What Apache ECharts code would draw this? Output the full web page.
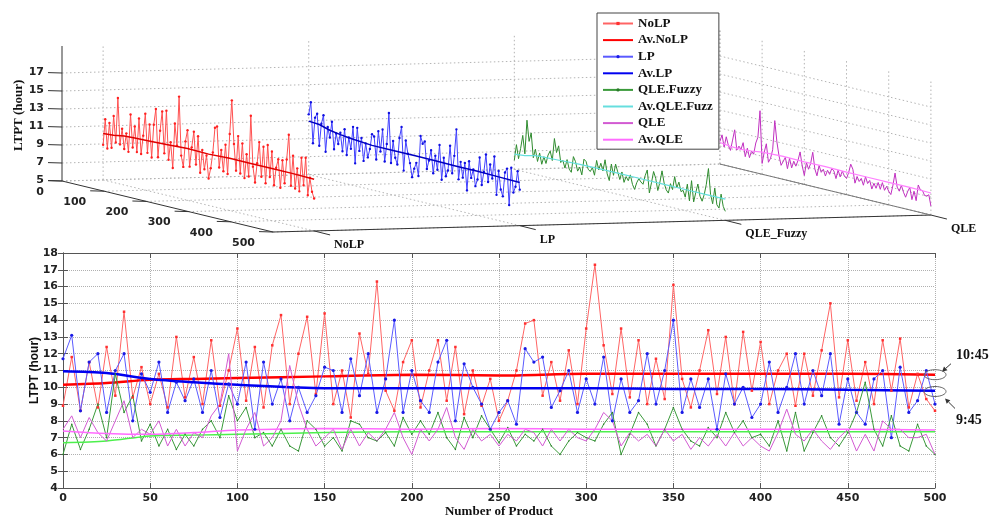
<!DOCTYPE html>
<html lang="en">
<head>
<meta charset="UTF-8">
<title>LTPT (hour)</title>
<style>
    html, body { margin: 0; padding: 0; background: #fff; }
    #main { width: 1005px; height: 519px; }
</style>
</head>
<body>
<div id="main"></div>
<script src="https://cdn.jsdelivr.net/npm/echarts@6/dist/echarts.min.js"></script>
<script>
// number of product, sampled every 5
var products = [
    0, 5, 10, 15, 20, 25, 30, 35, 40, 45,
    50, 55, 60, 65, 70, 75, 80, 85, 90, 95,
    100, 105, 110, 115, 120, 125, 130, 135, 140, 145,
    150, 155, 160, 165, 170, 175, 180, 185, 190, 195,
    200, 205, 210, 215, 220, 225, 230, 235, 240, 245,
    250, 255, 260, 265, 270, 275, 280, 285, 290, 295,
    300, 305, 310, 315, 320, 325, 330, 335, 340, 345,
    350, 355, 360, 365, 370, 375, 380, 385, 390, 395,
    400, 405, 410, 415, 420, 425, 430, 435, 440, 445,
    450, 455, 460, 465, 470, 475, 480, 485, 490, 495,
    500
];
var noLP = [
    8.9, 11.8, 8.6, 11.5, 8.8, 12.4, 9.5, 14.5, 9.4, 11.2,
    9.0, 10.8, 8.8, 13.0, 9.4, 11.8, 9.0, 12.8, 8.9, 11.0,
    13.5, 9.2, 12.4, 8.8, 12.5, 14.3, 9.0, 12.0, 14.2, 9.6,
    14.4, 9.0, 11.0, 8.2, 13.2, 10.8, 16.3, 9.8, 8.6, 11.5,
    12.8, 8.8, 11.0, 12.8, 9.2, 12.4, 8.4, 11.0, 8.9, 10.5,
    8.0, 9.2, 11.0, 13.8, 14.0, 9.5, 11.5, 9.2, 12.2, 9.0,
    13.5, 17.3, 12.5, 9.6, 13.5, 9.4, 12.8, 9.0, 11.7, 9.3,
    16.1, 10.5, 8.8, 11.0, 13.4, 9.6, 13.0, 9.0, 13.3, 9.8,
    12.7, 9.0, 11.0, 12.0, 8.9, 12.0, 9.5, 12.2, 15.0, 9.4,
    12.8, 9.2, 11.5, 9.0, 12.8, 9.8, 12.9, 8.8, 10.8, 9.3,
    8.6
];
var lp = [
    11.7, 13.1, 8.6, 11.5, 12.0, 8.5, 11.0, 12.0, 8.0, 10.8,
    9.7, 11.5, 8.5, 10.3, 9.2, 10.5, 8.5, 11.0, 8.2, 10.2,
    9.0, 11.5, 7.5, 11.5, 9.0, 10.5, 8.0, 10.0, 8.5, 9.5,
    11.2, 11.0, 8.5, 11.7, 9.5, 12.0, 8.5, 10.5, 14.0, 8.5,
    11.0, 9.2, 8.5, 11.5, 12.8, 8.0, 11.4, 10.0, 9.0, 7.5,
    8.5, 9.2, 7.8, 12.3, 11.5, 11.8, 8.8, 9.8, 11.0, 8.5,
    10.5, 9.0, 11.8, 8.0, 10.5, 8.5, 9.2, 12.0, 9.0, 11.0,
    14.0, 8.5, 10.5, 8.8, 10.5, 7.5, 10.8, 9.0, 10.0, 8.2,
    9.0, 11.5, 8.5, 10.0, 12.0, 9.0, 11.0, 9.5, 12.0, 7.8,
    10.5, 8.5, 7.8, 10.5, 11.0, 7.0, 11.2, 8.5, 9.2, 11.0,
    9.0
];
var qleFuzzy = [
    6.0, 7.8, 6.3, 7.5, 9.0, 7.0, 10.8, 8.5, 9.5, 6.8,
    7.8, 6.5, 7.5, 6.3, 7.2, 6.5, 7.5, 8.0, 7.0, 9.5,
    8.0, 8.8, 7.0, 7.3, 6.5, 7.5, 6.5, 6.2, 8.0, 7.5,
    6.5, 7.0, 6.2, 8.0, 7.8, 7.0, 6.8, 7.3, 6.5, 8.2,
    7.2, 8.0, 7.2, 8.5, 7.0, 6.3, 8.2, 7.0, 8.3, 7.5,
    6.7, 7.6, 6.5, 7.2, 6.8, 7.5, 6.5, 6.0, 6.8, 7.3,
    7.0, 6.8, 7.8, 8.5, 6.0, 7.2, 8.5, 7.8, 6.5, 7.5,
    8.8, 7.5, 6.8, 6.5, 7.6, 7.0, 8.5, 7.3, 8.0, 7.0,
    7.2, 6.5, 8.0, 6.2, 8.5, 6.2, 7.3, 8.3, 7.0, 6.5,
    7.3, 8.5, 10.3, 7.5, 6.5, 8.3, 6.5, 6.2, 7.8, 6.5,
    6.0
];
var qle = [
    7.5, 8.3, 7.0, 8.2, 7.3, 6.8, 8.0, 9.2, 7.0, 7.5,
    7.2, 8.0, 6.5, 7.5, 6.5, 7.3, 7.0, 8.3, 9.0, 12.0,
    6.2, 7.5, 8.5, 6.5, 7.0, 8.0, 11.3, 9.0, 7.5, 6.5,
    7.0, 7.5, 6.3, 7.5, 6.5, 7.3, 6.8, 7.5, 8.5, 7.0,
    6.0, 7.5, 6.8, 7.5, 8.8, 7.0, 6.3, 7.5, 6.8, 7.2,
    6.5, 7.2, 6.8, 7.5, 7.3, 6.5, 7.5, 6.8, 7.5, 7.0,
    6.8, 7.5, 8.5, 8.0, 6.5, 7.3, 6.8, 7.2, 6.5, 7.5,
    6.8, 7.2, 6.3, 7.0, 6.5, 7.2, 6.5, 7.3, 6.5, 7.0,
    6.5, 6.2, 7.3, 8.7, 7.2, 6.8, 7.5, 6.8, 6.3, 7.0,
    7.5, 6.2, 7.2, 6.2, 8.0, 7.5, 7.5, 7.0, 7.0, 7.2,
    6.0
];

// running averages
var avgX = [0, 25, 50, 75, 100, 150, 200, 250, 300, 350, 400, 450, 500];
var avNoLP = [10.15, 10.25, 10.45, 10.5, 10.55, 10.65, 10.75, 10.7, 10.8, 10.8, 10.8, 10.8, 10.75];
var avLP = [10.95, 10.85, 10.5, 10.3, 10.15, 9.95, 9.95, 9.95, 9.95, 9.9, 9.9, 9.85, 9.8];
var avQleFuzzy = [6.7, 6.8, 7.1, 7.15, 7.2, 7.3, 7.35, 7.35, 7.35, 7.35, 7.35, 7.35, 7.35];
var avQle = [7.4, 7.25, 7.2, 7.3, 7.45, 7.55, 7.5, 7.55, 7.5, 7.5, 7.5, 7.5, 7.45];

// 3d panel ticks
var methods = ['NoLP', 'LP', 'QLE_Fuzzy', 'QLE'];
var methodPos = [1, 2, 3, 4];
var pTicks3d = [0, 100, 200, 300, 400, 500];
var zTicks3d = [5, 7, 9, 11, 13, 15, 17];

// marked averages at the end (10:45 and 9:45)
var marks = [
    { label: '10:45', value: 10.75 },
    { label: '9:45', value: 9.75 }
];

function pairs(xs, ys) {
    return xs.map(function (x, i) { return [x, ys[i]]; });
}

// oblique view of the 3d box: back wall taken from grid 1, depth and method axes sheared onto it
var C0 = 0.8, C1 = 4, Z0 = 5, Z1 = 20, P1 = 500;
var CX = 205.6, CY = 5.3, PY = 0.102;

function proj(api, p, c, z) {
    var pt = api.coord([p, z]);
    return [pt[0] + (c - C0) * CX, pt[1] + p * PY - (c - C0) * CY];
}

function seg(a, b, style) {
    return { type: 'line', shape: { x1: a[0], y1: a[1], x2: b[0], y2: b[1] }, style: style };
}

function renderFrame(params, api) {
    var kids = [];
    var dot = { stroke: '#b4b4b4', lineWidth: 1, lineDash: [1.5, 2.5] };
    var ax = { stroke: '#333', lineWidth: 1 };
    var numFont = 'bold 11px "DejaVu Sans"';
    var serifFont = 'bold 12px "Liberation Serif"';

    zTicks3d.forEach(function (z) {
        kids.push(seg(proj(api, 0, C0, z), proj(api, 0, C1, z), dot));
        kids.push(seg(proj(api, 0, C1, z), proj(api, P1, C1, z), dot));
    });
    methodPos.forEach(function (c) {
        kids.push(seg(proj(api, 0, c, Z0), proj(api, 0, c, Z1), dot));
        kids.push(seg(proj(api, 0, c, Z0), proj(api, P1, c, Z0), dot));
    });
    pTicks3d.forEach(function (p) {
        kids.push(seg(proj(api, p, C1, Z0), proj(api, p, C1, Z1), dot));
        kids.push(seg(proj(api, p, C0, Z0), proj(api, p, C1, Z0), dot));
    });

    kids.push(seg(proj(api, 0, C0, Z0), proj(api, 0, C0, Z1), ax));
    kids.push(seg(proj(api, 0, C0, Z0), proj(api, P1, C0, Z0), ax));
    kids.push(seg(proj(api, P1, C0, Z0), proj(api, P1, C1, Z0), ax));
    kids.push(seg(proj(api, 0, C1, Z0), proj(api, P1, C1, Z0), { stroke: '#777', lineWidth: 1 }));

    zTicks3d.forEach(function (z) {
        var a = proj(api, 0, C0, z);
        kids.push(seg(a, [a[0] - 14, a[1] - 0.4], ax));
        kids.push({ type: 'text', x: a[0] - 18, y: a[1] - 1,
            style: { text: String(z), font: numFont, fill: '#222', align: 'right', verticalAlign: 'middle' } });
    });
    pTicks3d.forEach(function (p) {
        var a = proj(api, p, C0, Z0);
        kids.push(seg(a, [a[0] - 14, a[1] - 0.4], ax));
        kids.push({ type: 'text', x: a[0] - 18, y: a[1] + 11,
            style: { text: String(p), font: numFont, fill: '#222', align: 'right', verticalAlign: 'middle' } });
    });
    methodPos.forEach(function (c, i) {
        var a = proj(api, P1, c, Z0);
        kids.push(seg(a, [a[0] + 16, a[1] + 4], ax));
        kids.push({ type: 'text', x: a[0] + 20, y: a[1] + 14,
            style: { text: methods[i], font: serifFont, fill: '#111', align: 'left', verticalAlign: 'middle' } });
    });

    var t = proj(api, 0, C0, 12.3);
    kids.push({ type: 'text', x: t[0] - 43, y: t[1], rotation: Math.PI / 2,
        style: { text: 'LTPT (hour)', font: 'bold 13px "Liberation Serif"', fill: '#111', align: 'center', verticalAlign: 'middle' } });

    return { type: 'group', children: kids };
}

function curve3d(xs, ys, c, color, width, dotColor) {
    return function (params, api) {
        var pts = xs.map(function (x, i) { return proj(api, x, c, ys[i]); });
        var kids = [{ type: 'polyline', shape: { points: pts }, style: { stroke: color, lineWidth: width, fill: 'none' } }];
        if (dotColor) {
            pts.forEach(function (pt) {
                kids.push({ type: 'circle', shape: { cx: pt[0], cy: pt[1], r: 1.2 }, style: { fill: dotColor } });
            });
        }
        return { type: 'group', children: kids };
    };
}

function custom3d(name, render) {
    return {
        name: name, type: 'custom', xAxisIndex: 2, yAxisIndex: 2,
        data: [[0, 5]], renderItem: render, silent: true
    };
}

var numLabel = { fontFamily: 'DejaVu Sans', fontWeight: 'bold', fontSize: 11, color: '#222' };
var split = { show: true, lineStyle: { type: 'dotted', color: '#b0b0b0', width: 1 } };
var frameLine = { show: true, lineStyle: { color: '#555', width: 1 } };
var noMark = { color: 'rgba(0,0,0,0)', borderWidth: 0 };

var option = {
    animation: false,
    grid: [
        { left: 63, right: 70, top: 253, bottom: 31 },
        { left: 62, top: 46, width: 211, height: 135 }
    ],
    legend: {
        orient: 'vertical', left: 597, top: 13,
        padding: [4, 6, 3, 5], itemGap: 3.6, itemWidth: 30, itemHeight: 4,
        backgroundColor: '#fff', borderColor: '#444', borderWidth: 1,
        textStyle: { fontFamily: 'Liberation Serif', fontWeight: 'bold', fontSize: 13, color: '#111' },
        data: [
            'NoLP',
            { name: 'Av.NoLP', itemStyle: noMark },
            'LP',
            { name: 'Av.LP', itemStyle: noMark },
            'QLE.Fuzzy',
            { name: 'Av.QLE.Fuzz', lineStyle: { color: '#66dede' }, itemStyle: noMark },
            { name: 'QLE', itemStyle: noMark },
            { name: 'Av.QLE', itemStyle: noMark }
        ]
    },
    xAxis: [
        { gridIndex: 0, type: 'value', min: 0, max: 500, interval: 50,
          name: 'Number of Product', nameLocation: 'middle', nameGap: 17,
          nameTextStyle: { fontFamily: 'Liberation Serif', fontWeight: 'bold', fontSize: 13, color: '#111' },
          axisLine: frameLine, axisTick: { inside: true, length: 5, lineStyle: { color: '#555' } },
          axisLabel: Object.assign({ margin: 5 }, numLabel), splitLine: split },
        { gridIndex: 0, type: 'value', position: 'top', min: 0, max: 500, interval: 50,
          axisLine: frameLine, axisTick: { inside: true, length: 5, lineStyle: { color: '#555' } },
          axisLabel: { show: false }, splitLine: { show: false } },
        { gridIndex: 1, type: 'value', min: 0, max: 500, show: false }
    ],
    yAxis: [
        { gridIndex: 0, type: 'value', min: 4, max: 18, interval: 1,
          name: 'LTPT (hour)', nameLocation: 'middle', nameGap: 22, nameRotate: 90, nameMoveOverlap: false,
          nameTextStyle: { fontFamily: 'Liberation Sans', fontWeight: 'bold', fontSize: 12, color: '#111' },
          axisLine: frameLine, axisTick: { inside: true, length: 5, lineStyle: { color: '#555' } },
          axisLabel: Object.assign({ margin: 5 }, numLabel), splitLine: split },
        { gridIndex: 0, type: 'value', position: 'right', min: 4, max: 18, interval: 1,
          axisLine: frameLine, axisTick: { inside: true, length: 5, lineStyle: { color: '#555' } },
          axisLabel: { show: false }, splitLine: { show: false } },
        { gridIndex: 1, type: 'value', min: 5, max: 20, show: false }
    ],
    series: [
        { name: 'NoLP', type: 'line', data: pairs(products, noLP),
          lineStyle: { color: '#ff6464', width: 1 }, symbol: 'rect', symbolSize: 2.5,
          itemStyle: { color: '#ff3030' } },
        { name: 'Av.NoLP', type: 'line', data: pairs(avgX, avNoLP), smooth: 0.3,
          lineStyle: { color: '#ff0000', width: 2.5 }, itemStyle: { color: '#ff0000' }, symbol: 'none' },
        { name: 'LP', type: 'line', data: pairs(products, lp),
          lineStyle: { color: '#5a5aff', width: 1 }, symbol: 'circle', symbolSize: 3.2,
          itemStyle: { color: '#1a1ae6' } },
        { name: 'Av.LP', type: 'line', data: pairs(avgX, avLP), smooth: 0.3,
          lineStyle: { color: '#0000f0', width: 2.5 }, itemStyle: { color: '#0000f0' }, symbol: 'none' },
        { name: 'QLE.Fuzzy', type: 'line', data: pairs(products, qleFuzzy),
          lineStyle: { color: '#3a9a3a', width: 1 }, symbol: 'circle', symbolSize: 1.5,
          itemStyle: { color: '#2a7a2a' } },
        { name: 'Av.QLE.Fuzz', type: 'line', data: pairs(avgX, avQleFuzzy), smooth: 0.3,
          lineStyle: { color: '#4cf04c', width: 1.5 }, itemStyle: { color: '#4cf04c' }, symbol: 'none' },
        { name: 'QLE', type: 'line', data: pairs(products, qle),
          lineStyle: { color: '#d25ad2', width: 1 }, itemStyle: { color: '#d25ad2' }, symbol: 'none' },
        { name: 'Av.QLE', type: 'line', data: pairs(avgX, avQle), smooth: 0.3,
          lineStyle: { color: '#ff6cff', width: 1.5 }, itemStyle: { color: '#ff6cff' }, symbol: 'none' },

        custom3d('', renderFrame),
        custom3d('NoLP', curve3d(products, noLP, 1, '#ff5050', 1, '#ff2020')),
        custom3d('Av.NoLP', curve3d(avgX, avNoLP, 1, '#e00000', 1.5)),
        custom3d('LP', curve3d(products, lp, 2, '#4040ff', 1, '#1010e0')),
        custom3d('Av.LP', curve3d(avgX, avLP, 2, '#0000c0', 1.5)),
        custom3d('QLE.Fuzzy', curve3d(products, qleFuzzy, 3, '#2e8b2e', 1)),
        custom3d('Av.QLE.Fuzz', curve3d(avgX, avQleFuzzy, 3, '#66dede', 1.2)),
        custom3d('QLE', curve3d(products, qle, 4, '#c030c0', 1)),
        custom3d('Av.QLE', curve3d(avgX, avQle, 4, '#ff80ff', 1.2))
    ]
};

var chart = echarts.init(document.getElementById('main'));
chart.setOption(option);

// ellipses, arrows and labels for the two end averages
function arrow(x1, y1, x2, y2) {
    var a = Math.atan2(y2 - y1, x2 - x1), L = 5, W = 2.6;
    var bx = x2 - L * Math.cos(a), by = y2 - L * Math.sin(a);
    return [
        { type: 'line', shape: { x1: x1, y1: y1, x2: bx, y2: by }, style: { stroke: '#333', lineWidth: 1 } },
        { type: 'polygon', shape: { points: [[x2, y2],
            [bx - W * Math.sin(a), by + W * Math.cos(a)],
            [bx + W * Math.sin(a), by - W * Math.cos(a)]] }, style: { fill: '#333' } }
    ];
}

var notes = [];
marks.forEach(function (m, i) {
    var c = chart.convertToPixel({ xAxisIndex: 0, yAxisIndex: 0 }, [500, m.value]);
    notes.push({ type: 'ellipse', shape: { cx: c[0], cy: c[1], rx: 11, ry: 5 },
        style: { fill: 'none', stroke: '#666', lineWidth: 1 }, z: 10 });
    var up = i === 0;
    notes = notes.concat(up ? arrow(c[0] + 16, c[1] - 11, c[0] + 7, c[1] - 3)
                            : arrow(c[0] + 20, c[1] + 17, c[0] + 10, c[1] + 7));
    notes.push({ type: 'text', x: c[0] + 21, y: up ? c[1] - 19 : c[1] + 29, z: 10,
        style: { text: m.label, font: 'bold 14px "Liberation Serif"', fill: '#111', align: 'left', verticalAlign: 'middle' } });
});
chart.setOption({ graphic: notes });
</script>
</body>
</html>
